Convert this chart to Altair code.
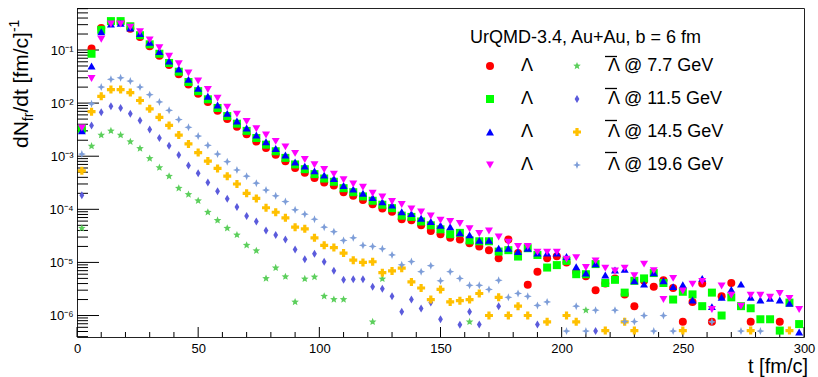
import altair as alt
import pandas as pd

# ---------------- data ----------------
t_bins = list(range(2, 300, 4))  # bin centres [fm/c]

lam_77 = [3.2e-3, 0.107, 0.26, 0.34, 0.34, 0.25, 0.175, 0.118, 0.078, 0.052,
          0.035, 0.0225, 0.015, 0.0105, 0.0072, 0.005, 0.0036, 0.0026, 0.0019, 0.00142,
          0.00107, 8.0e-4, 6.0e-4, 4.9e-4, 3.9e-4, 3.2e-4, 2.8e-4, 2.1e-4, 1.8e-4, 1.5e-4,
          1.25e-4, 1.04e-4, 9.0e-5, 6.5e-5, 6.2e-5, 5.0e-5, 3.9e-5, 3.4e-5, 2.9e-5, 2.7e-5,
          2.3e-5, 2.0e-5, 1.7e-5, 1.2e-5, 2.7e-5, 1.5e-5, 3.8e-6, 6.7e-6, 1.2e-5, 1.3e-5,
          1.0e-5, 6.5e-6, 5.5e-6, 3.0e-6, 4.0e-6, 5.0e-6, 2.5e-6, 1.5e-6, 4.5e-6, 3.5e-6,
          4.6e-6, 3.3e-6, 7.6e-7, 1.8e-6, 4.0e-6, 7.6e-7, 2.3e-6, 4.1e-6, None, 7.6e-7,
          None, None, 7.6e-7, None, None]
lam_115 = [3.3e-3, 0.085, 0.24, 0.35, 0.35, 0.28, 0.19, 0.128, 0.085, 0.057,
           0.039, 0.025, 0.0168, 0.0118, 0.0081, 0.0057, 0.0041, 0.003, 0.0022, 0.00165,
           0.00124, 9.3e-4, 7.0e-4, 5.7e-4, 4.6e-4, 3.8e-4, 3.3e-4, 2.5e-4, 2.1e-4, 1.75e-4,
           1.45e-4, 1.22e-4, 1.05e-4, 7.6e-5, 7.2e-5, 5.9e-5, 5.0e-5, 4.2e-5, 3.4e-5, 3.6e-5,
           2.6e-5, 2.5e-5, 2.5e-5, 1.6e-5, 1.7e-5, 1.29e-5, 1.85e-5, 1.38e-5, 8.0e-6, 8.9e-6,
           1.07e-5, 6.0e-6, 6.0e-6, 9.3e-6, 4.1e-6, 4.7e-6, 2.7e-6, 4.5e-6, 5.0e-6, 6.3e-6,
           4.1e-6, 2.0e-6, 2.8e-6, 2.5e-6, 1.5e-6, 2.7e-6, 1.0e-6, 2.2e-6, 1.5e-6, 1.37e-6,
           8.5e-7, 8.5e-7, 5.2e-7, 1.75e-6, 6.9e-7]
lam_145 = [3.0e-3, 0.050, 0.22, 0.31, 0.32, 0.26, 0.205, 0.14, 0.094, 0.062,
           0.044, 0.028, 0.019, 0.0135, 0.0092, 0.0064, 0.0046, 0.0034, 0.0025, 0.00187,
           0.0014, 0.00105, 7.8e-4, 6.5e-4, 5.3e-4, 4.4e-4, 3.8e-4, 2.8e-4, 2.4e-4, 2.0e-4,
           1.66e-4, 1.38e-4, 1.2e-4, 9.0e-5, 8.3e-5, 6.8e-5, 5.9e-5, 5.0e-5, 4.7e-5, 3.6e-5,
           3.3e-5, 2.6e-5, 2.6e-5, 1.85e-5, 1.85e-5, 1.6e-5, 1.85e-5, 1.5e-5, 1.5e-5, 1.5e-5,
           1.29e-5, 8.3e-6, 6.3e-6, 9.4e-6, 5.8e-6, 7.2e-6, 7.4e-6, 4.5e-6, 3.9e-6, 6.4e-6,
           4.5e-6, 3.5e-6, 3.8e-6, 1.96e-6, 5.0e-6, 1.47e-6, 2.2e-6, 3.1e-6, 3.9e-6, 2.2e-6,
           1.96e-6, 2.1e-6, 1.96e-6, 1.7e-6, 4.9e-7]
lam_196 = [3.4e-3, 0.029, 0.16, 0.31, 0.31, 0.27, 0.22, 0.155, 0.11, 0.076,
           0.055, 0.037, 0.026, 0.018, 0.0123, 0.0084, 0.0062, 0.0045, 0.0033, 0.0025,
           0.0019, 0.0015, 0.00113, 8.7e-4, 6.9e-4, 5.6e-4, 4.6e-4, 3.6e-4, 3.0e-4, 2.6e-4,
           2.0e-4, 1.7e-4, 1.4e-4, 1.23e-4, 1.02e-4, 8.9e-5, 7.5e-5, 6.2e-5, 5.9e-5, 5.4e-5,
           4.3e-5, 3.5e-5, 3.9e-5, 3.0e-5, 2.4e-5, 2.0e-5, 2.0e-5, 1.56e-5, 1.56e-5, 1.56e-5,
           1.15e-5, 1.23e-5, 8.0e-6, 1.07e-5, 7.8e-6, 6.9e-6, 7.8e-6, 5.6e-6, 9.3e-6, 7.0e-6,
           2.0e-6, 5.0e-6, 2.9e-6, 3.9e-6, 4.4e-6, 1.3e-6, 3.6e-6, 2.4e-6, 1.5e-6, 2.4e-6,
           2.4e-6, 2.2e-6, 2.6e-6, 2.1e-6, 1.3e-6]
alam_77 = [4.4e-5, 1.55e-3, 2.5e-3, 3.0e-3, 2.5e-3, 1.87e-3, 1.4e-3, 9.1e-4, 6.1e-4, 4.2e-4,
           2.5e-4, 1.9e-4, 1.45e-4, 8.8e-5, 6.2e-5, 4.4e-5, 3.3e-5, 2.1e-5, 1.66e-5, 5.0e-6,
           7.9e-6, 5.4e-6, 1.8e-6, 4.9e-6, 5.3e-6, 2.3e-6, 2.0e-6, 2.0e-6, None, None,
           7.6e-7, 4.9e-6, None, None, None, None, None, None, None, None,
           7.6e-7, None, None, None, None, None, None, None, None, None,
           None, None, 1.26e-6, None, None, None, None, None, None, None,
           None, None, None, None, None, None, None, None, None, None,
           None, None, None, None, None]
alam_115 = [1.85e-4, 3.8e-3, 6.7e-3, 8.7e-3, 8.1e-3, 6.3e-3, 4.7e-3, 3.2e-3, 2.2e-3, 1.57e-3,
            1.05e-3, 6.7e-4, 4.8e-4, 3.2e-4, 2.2e-4, 1.58e-4, 1.1e-4, 7.5e-5, 5.9e-5, 4.0e-5,
            3.3e-5, 2.7e-5, 1.75e-5, 1.15e-5, 1.45e-5, 1.03e-5, 7.0e-6, 4.7e-6, 4.8e-6, 4.8e-6,
            3.5e-6, 3.2e-6, 2.3e-6, 1.18e-6, 2.0e-6, 1.35e-6, 1.75e-6, 8.5e-7, None, 6.7e-7,
            1.18e-6, 6.8e-7, None, 1.5e-6, None, None, None, 6.8e-7, None, None,
            None, None, None, 5.1e-7, None, None, None, None, None, None,
            None, None, None, None, None, None, None, None, None, None,
            None, None, None, None, None]
alam_145 = [5.3e-4, 6.9e-3, 0.0134, 0.018, 0.018, 0.0158, 0.0112, 7.8e-3, 5.4e-3, 3.8e-3,
            2.5e-3, 1.7e-3, 1.17e-3, 8.1e-4, 5.9e-4, 4.2e-4, 3.0e-4, 2.0e-4, 1.6e-4, 1.07e-4,
            8.8e-5, 6.9e-5, 4.6e-5, 4.3e-5, 2.9e-5, 2.1e-5, 1.9e-5, 1.5e-5, 1.1e-5, 1.0e-5,
            1.03e-5, 6.4e-6, 6.9e-6, 7.8e-6, 4.3e-6, 3.3e-6, 2.0e-6, 3.1e-6, 1.8e-6, 1.9e-6,
            2.0e-6, 2.6e-6, 1.0e-6, 2.2e-6, 1.0e-6, 1.5e-6, 1.0e-6, None, 7.6e-7, None,
            1.0e-6, 7.6e-7, None, None, 5.2e-7, None, 7.6e-7, 5.2e-7, None, None,
            None, None, 5.2e-7, None, None, None, None, None, None, 5.2e-7,
            None, None, None, 5.2e-7, None]
alam_196 = [1.1e-3, 9.7e-3, 0.020, 0.028, 0.030, 0.026, 0.020, 0.0144, 0.0105, 7.3e-3,
            4.9e-3, 3.5e-3, 2.4e-3, 1.6e-3, 1.1e-3, 7.9e-4, 5.5e-4, 4.2e-4, 3.1e-4, 2.3e-4,
            1.8e-4, 1.4e-4, 9.8e-5, 8.1e-5, 6.5e-5, 4.6e-5, 3.8e-5, 2.6e-5, 2.9e-5, 2.1e-5,
            2.0e-5, 1.8e-5, 1.38e-5, 9.0e-6, 1.04e-5, 6.7e-6, 8.7e-6, 4.5e-6, 6.7e-6, 5.0e-6,
            3.7e-6, 3.7e-6, 3.1e-6, 4.6e-6, 2.2e-6, 2.6e-6, 2.3e-6, 1.55e-6, 1.8e-6, None,
            5.1e-7, 1.5e-6, 5.1e-7, 1.26e-6, None, 1.26e-6, 7.7e-7, 7.7e-7, 1.0e-6, 5.1e-7,
            1.0e-6, 5.1e-7, None, None, None, 7.6e-7, None, None, 5.1e-7, None,
            5.1e-7, None, None, None, None]

# legend fills column by column: first the four Lambda, then the four anti-Lambda
series_keys = ["L77", "L115", "L145", "L196", "A77", "A115", "A145", "A196"]
series_labels = ["\u039B", "\u039B", "\u039B", "\u039B",
                 "\u039B @ 7.7 GeV", "\u039B @ 11.5 GeV",
                 "\u039B @ 14.5 GeV", "\u039B @ 19.6 GeV"]   # anti: bar drawn above
series_values = {"L77": lam_77, "L115": lam_115, "L145": lam_145, "L196": lam_196,
                 "A77": alam_77, "A115": alam_115, "A145": alam_145, "A196": alam_196}

header_text = "UrQMD-3.4, Au+Au, b = 6 fm"
x_tick_labels = [0, 50, 100, 150, 200, 250, 300]
x_minor_ticks = [v for v in range(0, 301, 10) if v % 50 != 0]
y_major = [1e-6, 1e-5, 1e-4, 1e-3, 1e-2, 1e-1]
y_min, y_max = 3.94e-7, 0.618
y_minor = [m * 10.0 ** e for e in range(-7, 0) for m in range(2, 10)
           if y_min <= m * 10.0 ** e <= y_max]

# ---------------- styles ----------------
STAR5 = ("M0,-1L0.26,-0.36L0.95,-0.31L0.42,0.14L0.59,0.81L0,0.45"
         "L-0.59,0.81L-0.42,0.14L-0.95,-0.31L-0.26,-0.36Z")
DIAMOND = "M0,-1L0.6,0L0,1L-0.6,0Z"
STAR4 = "M0,-1L0.28,-0.28L1,0L0.28,0.28L0,1L-0.28,0.28L-1,0L-0.28,-0.28Z"
series_colors = ["#ff0000", "#00ff00", "#0000ff", "#ff00ff",
                 "#5ccf5c", "#5b5bdc", "#ffc000", "#7d9dd8"]
series_shapes = ["circle", "square", "triangle-up", "triangle-down",
                 STAR5, DIAMOND, "cross", STAR4]
series_sizes = [64, 64, 80, 80, 90, 95, 90, 110]

rows = []
for k in series_keys:  # drawing order: Lambda first, anti-Lambda on top
    for t, v in zip(t_bins, series_values[k]):
        if v is not None:
            rows.append({"t": t, "v": v, "s": k})
df = pd.DataFrame(rows)

W, H = 727, 329
xscale = alt.Scale(domain=[0, 300], nice=False, zero=False)
yscale = alt.Scale(type="log", domain=[y_min, y_max], nice=False)

label_expr = " : ".join(
    f"datum.value == '{k}' ? '{l}'" for k, l in zip(series_keys, series_labels)
) + " : ''"

y_exps = {1e-6: "6", 1e-5: "5", 1e-4: "4", 1e-3: "3", 1e-2: "2", 1e-1: "1"}
sup_digit = {"1": "\u00b9", "2": "\u00b2", "3": "\u00b3", "4": "\u2074", "5": "\u2075", "6": "\u2076"}
y_label_expr = " : ".join(
    f"datum.value < {v * 1.5} ? '10\u207b{sup_digit[d]}'" for v, d in sorted(y_exps.items())
) + " : ''"

xaxis = alt.Axis(values=x_tick_labels, ticks=False, domain=False, grid=False,
                 labelFontSize=13, labelPadding=5, labelFlush=False,
                 labelColor="black", title=None)
yaxis = alt.Axis(values=y_major, ticks=False, domain=False, grid=False,
                 labelFontSize=13, labelPadding=4, labelFlush=False,
                 labelColor="black", labelExpr=y_label_expr, title=None)

points = alt.Chart(df).mark_point(filled=True, opacity=1, strokeWidth=0).encode(
    x=alt.X("t:Q", scale=xscale, axis=xaxis),
    y=alt.Y("v:Q", scale=yscale, axis=yaxis),
    color=alt.Color("s:N", scale=alt.Scale(domain=series_keys, range=series_colors),
                    legend=alt.Legend(orient="none", legendX=404, legendY=49, columns=2,
                                      columnPadding=34, rowPadding=15, labelOffset=22,
                                      labelFontSize=18, labelColor="black",
                                      symbolSize=55, title=None, labelExpr=label_expr)),
    shape=alt.Shape("s:N", scale=alt.Scale(domain=series_keys, range=series_shapes)),
    size=alt.Size("s:N", scale=alt.Scale(domain=series_keys, range=series_sizes), legend=None),
)

xt_major = alt.Chart(pd.DataFrame({"t": x_tick_labels})).mark_rule(color="black").encode(
    x=alt.X("t:Q", scale=xscale, axis=xaxis), y=alt.value(H), y2=alt.value(H - 10))
xt_minor = alt.Chart(pd.DataFrame({"t": x_minor_ticks})).mark_rule(color="black").encode(
    x=alt.X("t:Q", scale=xscale, axis=xaxis), y=alt.value(H), y2=alt.value(H - 5))
yt_major = alt.Chart(pd.DataFrame({"v": y_major})).mark_rule(color="black").encode(
    y=alt.Y("v:Q", scale=yscale, axis=yaxis), x=alt.value(0), x2=alt.value(22))
yt_minor = alt.Chart(pd.DataFrame({"v": y_minor})).mark_rule(color="black").encode(
    y=alt.Y("v:Q", scale=yscale, axis=yaxis), x=alt.value(0), x2=alt.value(11))

one = pd.DataFrame({"a": [0]})


def txt(text, x, y, size, **kw):
    return alt.Chart(one).mark_text(text=text, fontSize=size, color="black", **kw).encode(
        x=alt.value(x), y=alt.value(y))


def bar_over(x1, x2, y):
    # the bar of the anti-Lambda symbol in the legend
    return alt.Chart(one).mark_rule(color="black", strokeWidth=1.3).encode(
        x=alt.value(x1), x2=alt.value(x2), y=alt.value(y))


header = txt(header_text, 393, 30, 18, align="left", baseline="middle")
xtitle = txt("t [fm/c]", 731, 365, 20, align="right", baseline="alphabetic")
ytitle = [
    txt("dN", -49, 140, 21, align="left", baseline="alphabetic", angle=270),
    txt("fr", -44, 113.2, 14, align="left", baseline="alphabetic", angle=270),
    txt("/dt [fm/c]", -49, 104.6, 21, align="left", baseline="alphabetic", angle=270),
    txt("-1", -58, 24.1, 14, align="left", baseline="alphabetic", angle=270),
]
bars = [bar_over(528, 540, yy) for yy in (48.5, 80.5, 112.5, 144.5)]

chart = alt.layer(
    xt_minor, xt_major, yt_minor, yt_major, points, header, xtitle, *ytitle, *bars
).properties(
    width=W, height=H,
    autosize=alt.AutoSizeParams(type="none"),
    padding={"left": 77, "top": 8, "right": 14, "bottom": 40},
).configure(
    font="Liberation Sans",
).configure_view(
    stroke="#222222", strokeWidth=1,
).configure_axis(
    labelFont="Liberation Sans",
).configure_legend(
    labelFont="Liberation Sans",
)

chart.save("out.html", embed_options={"renderer": "svg", "actions": False})
